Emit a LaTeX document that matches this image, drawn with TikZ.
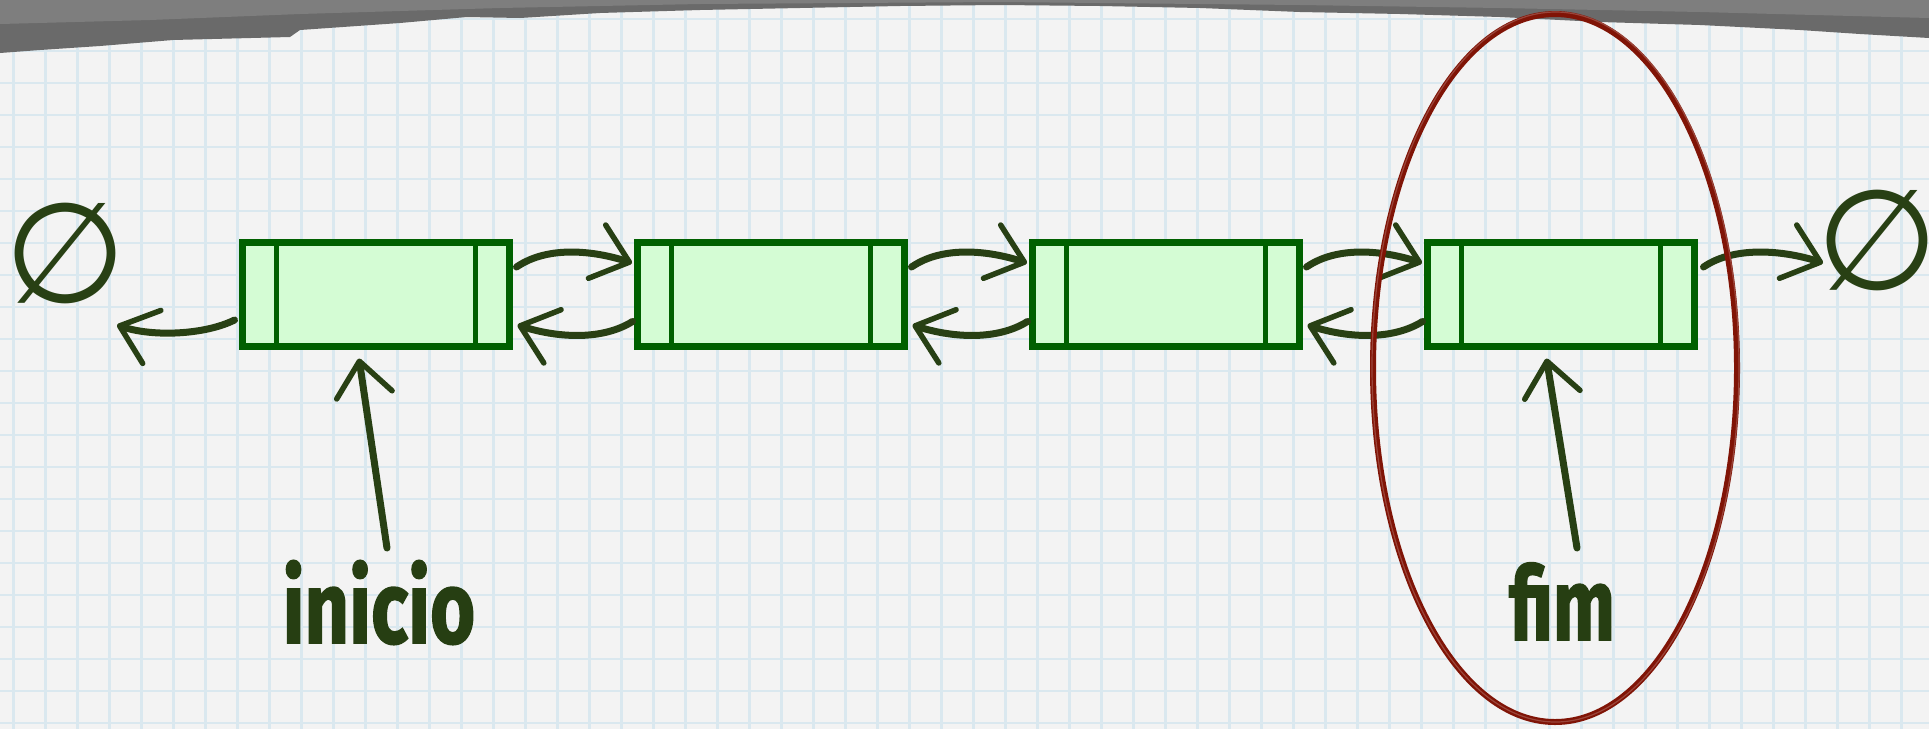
\documentclass[tikz,border=0pt]{standalone}
\usepackage{fontspec}
\usepackage{graphicx}
\setmainfont{Fira Sans}
\newfontfamily\hand{Fira Sans}[BoldFeatures={FakeBold=1.6}]
\newfontfamily\djv{DejaVu Sans}
\usetikzlibrary{arrows.meta,calc}

\definecolor{paper}{RGB}{243,243,243}
\definecolor{gridc}{RGB}{218,232,239}
\definecolor{band}{RGB}{106,106,106}
\definecolor{bandlight}{RGB}{126,126,126}
\definecolor{boxfill}{RGB}{212,252,212}
\definecolor{boxline}{RGB}{0,96,0}
\definecolor{ink}{RGB}{40,64,20}
\definecolor{txt}{RGB}{38,62,18}
\definecolor{redc}{RGB}{128,20,6}

\tikzset{
  listbox/.style={draw=boxline, fill=boxfill, line width=7pt, minimum width=267pt, minimum height=104pt, inner sep=0pt},
  divider/.style={draw=boxline, line width=5pt},
  linkarrow/.style={draw=ink, line width=7pt, line cap=round, -{Straight Barb[length=34pt,width=56pt,line width=5.5pt,round]}},
  namelabel/.style={text=txt, inner sep=0pt, anchor=base, font=\hand\fontsize{102}{102}\selectfont\bfseries},
  nullsym/.style={text=ink, inner sep=0pt, font=\djv\fontsize{140}{140}\selectfont},
  ring/.style={draw=redc, line width=6pt},
  gridline/.style={draw=gridc, line width=2.2pt},
}

\begin{document}
\begin{tikzpicture}[x=1pt,y=-1pt]
\useasboundingbox (0,0) rectangle (1929,729);
\fill[paper] (0,0) rectangle (1929,729);
\foreach \i in {0,...,60} \draw[gridline] (13.5+32*\i,0) -- (13.5+32*\i,729);
\foreach \j in {0,...,22} \draw[gridline] (0,19+32*\j) -- (1929,19+32*\j);

% torn paper band
\fill[band] (0,0) -- (1929,0) -- (1929,38) -- (1860,34) -- (1800,30) -- (1700,25) -- (1600,22) -- (1500,17) -- (1400,14) -- (1300,12) -- (1200,8) -- (1100,6) -- (1000,5) -- (900,6) -- (800,8) -- (700,10) -- (600,13) -- (520,18) -- (467,17) -- (400,23) -- (300,30) -- (290,37) -- (173,40) -- (100,46) -- (40,50) -- (0,53) -- cycle;
\fill[bandlight] (0,0) -- (1929,0) -- (1929,18) -- (1700,12) -- (1500,8) -- (1300,5) -- (1000,2) -- (700,4) -- (500,8) -- (300,14) -- (150,20) -- (0,24) -- cycle;

% boxes
\foreach \k/\x in {1/376, 2/771, 3/1166, 4/1561} {
  \node[listbox] (b\k) at (\x,294.5) {};
  \draw[divider] ([xshift=37.5pt]b\k.north west) -- ([xshift=37.5pt]b\k.south west);
  \draw[divider] ([xshift=-37.5pt]b\k.north east) -- ([xshift=-37.5pt]b\k.south east);
}

% null symbols
\node[nullsym] (n0) at (65,253) {∅};
\node[nullsym] (n5) at (1877,240) {∅};

% labels
\node[namelabel] (inicio) at (379,643) {\scalebox{0.76}[1]{inicio}};
\node[namelabel] (fim) at (1562,640) {\scalebox{0.72}[1]{fim}};

% links between boxes
\foreach \p/\q in {1/2, 2/3, 3/4} {
  \draw[linkarrow] ($(b\p.east)+(3.5,-27.5)$) .. controls +(32,-22) and +(-37,-12) .. ($(b\q.west)+(-2,-31.5)$);
  \draw[linkarrow] ($(b\q.west)+(-1.5,27)$) .. controls +(-32,20) and +(37,12) .. ($(b\p.east)+(4.5,30.5)$);
}

% end links
\coordinate (n0tip) at (117,325);
\coordinate (n5tip) at (1823,263);
\draw[linkarrow] ($(b1.west)+(-4.5,25.5)$) .. controls +(-30,15) and +(35,12) .. (n0tip);
\draw[linkarrow] ($(b4.east)+(5.5,-27.5)$) .. controls +(32,-22) and +(-37,-12) .. (n5tip);

% pointers
\coordinate (inicioTail) at (387,548);
\coordinate (fimTail) at (1577,548);
\draw[linkarrow] (inicioTail) -- ($(b1.south)+(-17,8.5)$);
\draw[linkarrow] (fimTail) -- ($(b4.south)+(-14.5,8.5)$);

% red ring
\draw[ring] (1555,368) ellipse [x radius=182, y radius=354];
\draw[redc!70!white, line width=1.2pt, opacity=0.7] (1555.5,367) ellipse [x radius=183.5, y radius=355];
\end{tikzpicture}
\end{document}
